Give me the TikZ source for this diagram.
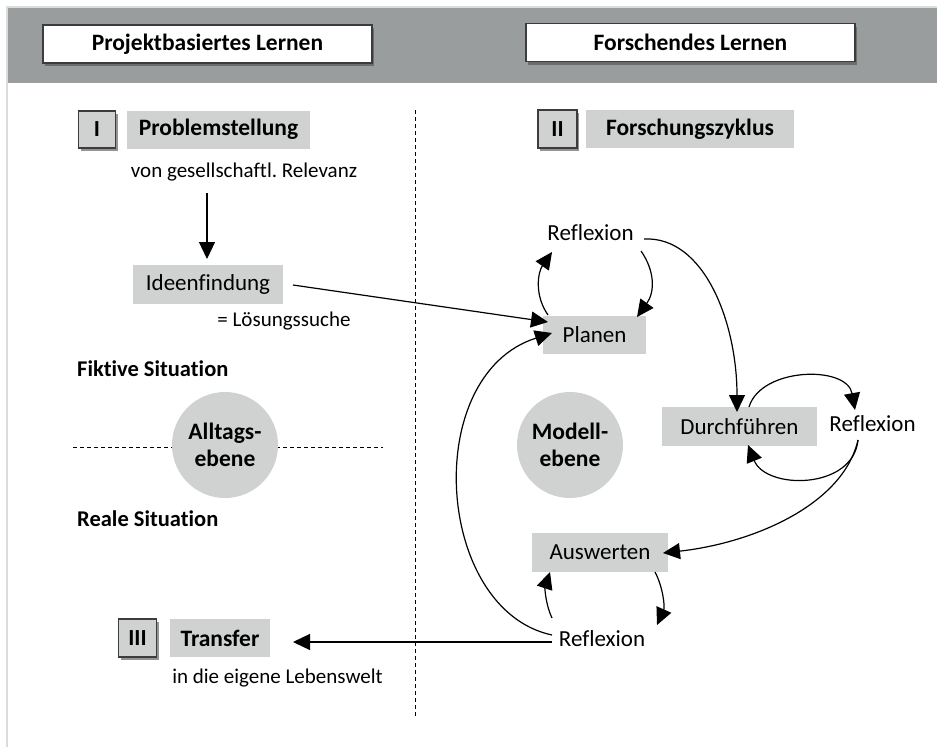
\documentclass[tikz,border=0pt]{standalone}
\usepackage{fontspec}
\setmainfont{Carlito}[Ligatures=NoCommon]
\usetikzlibrary{arrows.meta,shadows,calc}
\definecolor{bandgrey}{HTML}{9A9D9E}
\definecolor{boxgrey}{HTML}{D0D2D1}
\definecolor{framegrey}{HTML}{DCDCDC}
\definecolor{edgegrey}{HTML}{3C3C3C}
\frenchspacing

\begin{document}
\begin{tikzpicture}[x=1pt,y=1pt,
  every node/.style={font=\fontsize{23}{27}\selectfont},
  boxshadow/.style={drop shadow={shadow xshift=2pt,shadow yshift=-3pt,fill=black!70,opacity=0.6}},
  hdrbox/.style={draw=edgegrey, line width=1.2pt, fill=white, minimum width=329pt,
    minimum height=38pt, inner sep=0pt, font=\fontsize{23.5}{27}\selectfont\bfseries, boxshadow},
  numbox/.style={draw=edgegrey, line width=1.2pt, fill=boxgrey, minimum width=37pt,
    minimum height=37pt, inner sep=0pt, font=\fontsize{23}{27}\selectfont\bfseries, boxshadow},
  greybox/.style={fill=boxgrey, inner sep=0pt, minimum height=38pt},
  titlebox/.style={greybox, font=\fontsize{23.5}{27}\selectfont\bfseries},
  subtext/.style={font=\fontsize{21}{25}\selectfont, inner sep=0pt, anchor=base},
  sidelabel/.style={font=\fontsize{22.5}{26}\selectfont\bfseries, inner sep=0pt, anchor=base west},
  plaintext/.style={inner sep=0pt, anchor=base},
  levelcircle/.style={circle, fill=boxgrey, minimum size=106pt, inner sep=0pt, align=center,
    font=\fontsize{23.5}{27}\selectfont\bfseries},
  arr/.style={line width=1.2pt, -{Triangle[length=17pt,width=16pt]}},
  divider/.style={line width=0.9pt, dash pattern=on 4pt off 3pt},
]
\useasboundingbox (0,0) rectangle (937,-747);

% frame and header band
\draw[framegrey, line width=2pt] (7,-747) -- (7,-7) -- (937,-7);
\fill[bandgrey] (8,-8) rectangle (937,-83);

\node[hdrbox] (hdrL) at (207.5,-44) {Projektbasiertes Lernen};
\node[hdrbox] (hdrR) at (690.5,-42.5) {Forschendes Lernen};

% dividers
\draw[divider] (415,-110) -- (415,-718);
\draw[divider] (73,-447) -- (383,-447);

% left column: project-based learning
\node[numbox] (numI) at (97,-129.5) {I};
\node[titlebox, minimum width=183pt] (probl) at (218.5,-129.5) {Problemstellung};
\node[subtext] (relev) at (244,-177) {von gesellschaftl. Relevanz};

\node[greybox, minimum width=150pt, minimum height=39pt] (idee) at (208,-284.5) {Ideenfindung};
\node[subtext] (loes) at (284,-326.7) {= Lösungssuche};

\node[sidelabel] (fiktiv) at (77,-376.7) {Fiktive Situation};
\node[levelcircle] (alltag) at (225,-445) {Alltags-\\ebene};
\node[sidelabel] (reale) at (77,-526.7) {Reale Situation};

\node[numbox, minimum width=38pt, minimum height=38pt] (numIII) at (137.5,-638) {III};
\node[titlebox, minimum width=100pt] (transfer) at (220,-638) {Transfer};
\node[subtext] (leben) at (277.5,-683) {in die eigene Lebenswelt};

% right column: research cycle
\node[numbox, minimum width=39pt, minimum height=38pt] (numII) at (557.5,-129) {II};
\node[titlebox, minimum width=208pt] (zyklus) at (690,-129) {Forschungszyklus};

\node[plaintext] (refl1) at (590.5,-240) {Reflexion};
\node[greybox, minimum width=103pt] (planen) at (594.5,-335) {Planen};
\node[levelcircle] (modell) at (570,-445) {Modell-\\ebene};
\node[greybox, minimum width=155pt, minimum height=39pt] (durch) at (739.5,-426.5) {Durchführen};
\node[plaintext] (refl2) at (872.5,-431.7) {Reflexion};
\node[greybox, minimum width=136pt, minimum height=39pt] (ausw) at (600,-552.5) {Auswerten};
\node[plaintext] (refl3) at (602,-646) {Reflexion};

% problem statement leads to idea finding, ideas lead to planning
\draw[arr] ([shift={(-37,-16)}]relev.base) -- ([shift={(-1,25.5)}]idee.center);
\draw[arr] ([shift={(85,-0.5)}]idee.center) -- ([shift={(-46.5,13)}]planen.center);

% planning loop
\draw[arr] ([shift={(-46.5,20)}]planen.center) .. controls +(-14,20) and +(-14,-20) .. ([shift={(-38.5,-12)}]refl1.base);
\draw[arr] ([shift={(50.5,-11)}]refl1.base) .. controls +(14,-20) and +(18,25) .. ([shift={(42.5,18)}]planen.center);
\draw[arr] ([shift={(53.5,1)}]refl1.base) .. controls +(60,3) and +(0,90) .. ([shift={(-2.5,14.5)}]durch.center);

% execution loop
\draw[arr] ([shift={(9.5,19.5)}]durch.center) .. controls +(12,40) and +(-8,45) .. ([shift={(-17.5,21.7)}]refl2.base);
\draw[arr] ([shift={(-14.5,-8.3)}]refl2.base) .. controls +(-5,-50) and +(18,-45) .. ([shift={(8.5,-18.5)}]durch.center);
\draw[arr] ([shift={(-14.5,-8.3)}]refl2.base) .. controls +(-15,-65) and +(90,10) .. ([shift={(63,-0.5)}]ausw.center);

% evaluation loop
\draw[arr] ([shift={(55,-19.5)}]ausw.center) .. controls +(8,-15) and +(8,18) .. ([shift={(55,21)}]refl3.base);
\draw[arr] ([shift={(-50,28)}]refl3.base) .. controls +(-7,15) and +(-5,-15) .. ([shift={(-50,-19.5)}]ausw.center);

% back to planning, and out to transfer
\draw[arr] ([shift={(-50,11)}]refl3.base) .. controls +(-117,25) and +(-132,-42) .. ([shift={(-42.5,2)}]planen.center);
\coordinate (transferin) at ([shift={(73,-4)}]transfer.center);
\draw[arr] ([shift={(-50,4)}]refl3.base) -- (transferin);
\end{tikzpicture}
\end{document}
